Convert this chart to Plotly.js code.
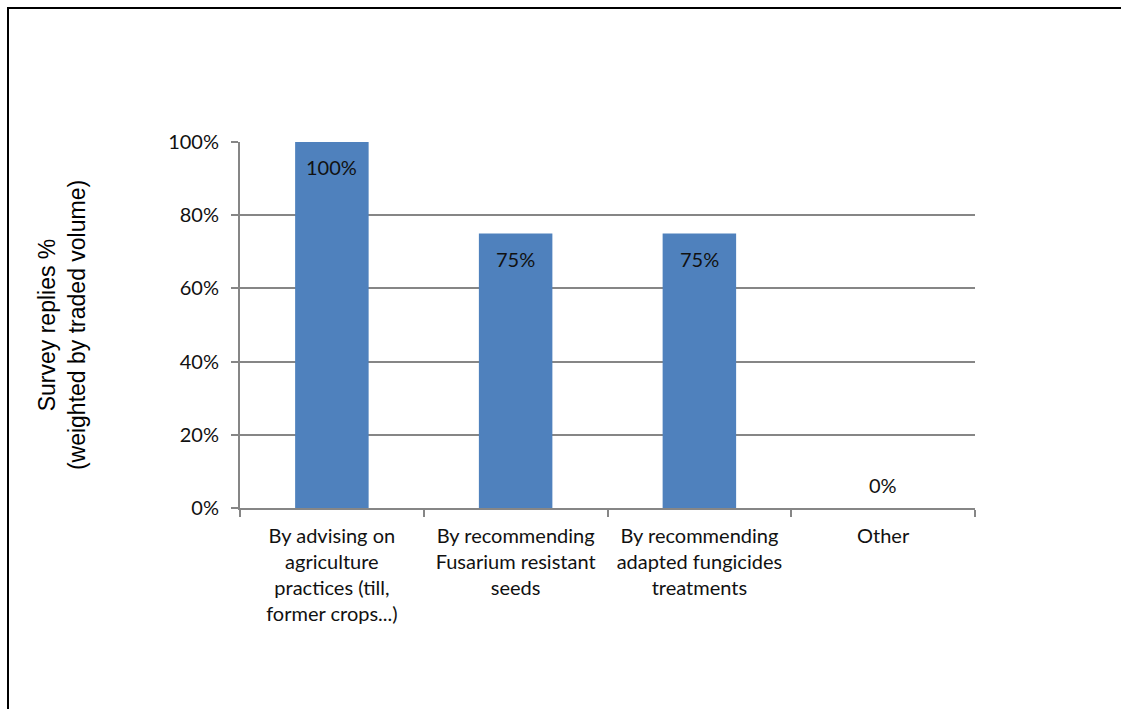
<!DOCTYPE html>
<html>
<head>
<meta charset="utf-8">
<script src="https://cdn.plot.ly/plotly-3.0.1.min.js"></script>
<style>
html,body{margin:0;padding:0;overflow:hidden;background:#fff;}
#frame{position:absolute;left:7px;top:7px;width:1200px;height:800px;border:2px solid #000;box-sizing:border-box;}
#chart{position:absolute;left:0;top:0;width:1121px;height:709px;}
</style>
</head>
<body>
<div id="frame"></div>
<div id="chart"></div>
<script>
const categories = [
  "By advising on<br>agriculture<br>practices (till,<br>former crops...)",
  "By recommending<br>Fusarium resistant<br>seeds",
  "By recommending<br>adapted fungicides<br>treatments",
  "Other"
];
const values = [100, 75, 75, 0];
const labels = ["100%", "75%", "75%", "0%"];
const tickVals = [0, 20, 40, 60, 80, 100];
const tickText = ["0%", "20%", "40%", "60%", "80%", "100%"];

const font = "Lato, 'Open Sans', sans-serif";

const trace = {
  type: "bar",
  x: categories,
  y: values,
  marker: {color: "#4F81BD"},
  hoverinfo: "skip"
};

const annotations = categories.map((c, i) => ({
  x: c, y: values[i], xref: "x", yref: "y",
  text: labels[i], showarrow: false,
  yshift: values[i] > 0 ? -25 : 23,
  font: {family: font, size: 20, color: "#111"}
}));

const layout = {
  width: 1121, height: 709,
  margin: {l: 240, r: 146, t: 142, b: 201},
  paper_bgcolor: "rgba(0,0,0,0)",
  plot_bgcolor: "rgba(0,0,0,0)",
  bargap: 0.6,
  showlegend: false,
  xaxis: {
    type: "category",
    tickson: "boundaries",
    ticks: "outside", ticklen: 7, tickcolor: "#868686", tickwidth: 2,
    showline: true, linecolor: "#868686", linewidth: 2,
    showgrid: false,
    ticklabelstandoff: 9,
    tickfont: {family: font, size: 20, color: "#111"},
    automargin: false
  },
  yaxis: {
    range: [0, 100],
    tickvals: tickVals, ticktext: tickText,
    ticks: "outside", ticklen: 7, tickcolor: "#868686", tickwidth: 2,
    showline: true, linecolor: "#868686", linewidth: 2,
    showgrid: true, gridcolor: "#868686", gridwidth: 2,
    zeroline: false,
    ticklabelstandoff: 8,
    tickfont: {family: font, size: 20, color: "#111"},
    title: {
      text: "Survey replies %<br>(weighted by traded volume)",
      font: {family: "'Liberation Sans', Arial, sans-serif", size: 23, color: "#000"},
      standoff: 76
    },
    automargin: false
  },
  annotations: annotations
};

Plotly.newPlot("chart", [trace], layout, {displayModeBar: false, staticPlot: true});
</script>
</body>
</html>
